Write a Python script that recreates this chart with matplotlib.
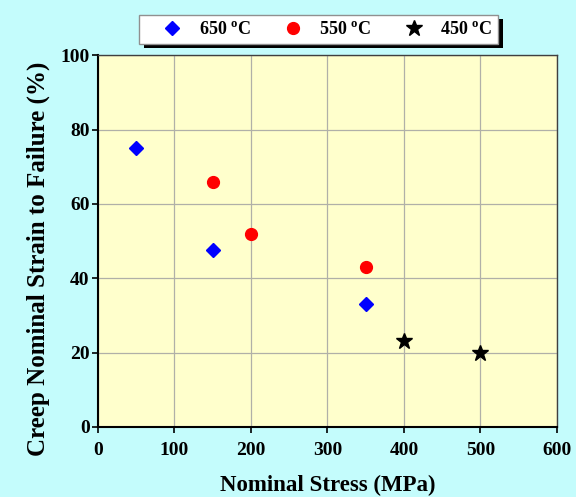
import matplotlib
matplotlib.use("Agg")
import matplotlib.pyplot as plt
from matplotlib.patches import Rectangle

plt.rcParams['font.family'] = ['Liberation Serif', 'DejaVu Serif']
plt.rcParams['font.weight'] = 'bold'
plt.rcParams['mathtext.fontset'] = 'custom'
plt.rcParams['mathtext.rm'] = 'Liberation Serif:bold'
plt.rcParams['mathtext.it'] = 'Liberation Serif:bold'
plt.rcParams['mathtext.bf'] = 'Liberation Serif:bold'

labels = ["650 $^{\\mathrm{o}}$C", "550 $^{\\mathrm{o}}$C", "450 $^{\\mathrm{o}}$C"]
stress_650 = [50, 150, 350]
strain_650 = [75, 47.5, 33]
stress_550 = [150, 200, 350]
strain_550 = [66, 52, 43]
stress_450 = [400, 500]
strain_450 = [23, 20]
xticks = [0, 100, 200, 300, 400, 500, 600]
yticks = [0, 20, 40, 60, 80, 100]

fig = plt.figure(figsize=(5.76, 4.97), dpi=100, facecolor='#c4fcfc')
ax = fig.add_axes([0.170, 0.141, 0.797, 0.748])
ax.set_facecolor('#ffffcc')

h1, = ax.plot(stress_650, strain_650, linestyle='none', marker='D', color='#0000ff', markersize=7)
h2, = ax.plot(stress_550, strain_550, linestyle='none', marker='o', color='#ff0000', markersize=8.5)
h3, = ax.plot(stress_450, strain_450, linestyle='none', marker='*', color='black', markersize=12)

ax.set_xlim(0, 600)
ax.set_ylim(0, 100)
ax.set_xticks(xticks)
ax.set_yticks(yticks)
ax.grid(True, color='#b0b0a8', linewidth=0.9)
ax.set_axisbelow(True)
ax.tick_params(direction='out', length=4.5, width=1.2, labelsize=14)
ax.tick_params(axis='x', pad=6)
ax.tick_params(axis='y', pad=1.5)
for lab in ax.get_xticklabels() + ax.get_yticklabels():
    lab.set_fontweight('bold')
for s in ['left', 'bottom']:
    ax.spines[s].set_linewidth(1.5)
    ax.spines[s].set_color('black')
for s in ['top', 'right']:
    ax.spines[s].set_linewidth(1.0)
    ax.spines[s].set_color('#404040')

ax.set_xlabel('Nominal Stress (MPa)', fontsize=16.5, fontweight='bold')
ax.set_ylabel('Creep Nominal Strain to Failure (%)', fontsize=18, fontweight='bold')
ax.xaxis.set_label_coords(0.501, -0.128)
ax.yaxis.set_label_coords(-0.105, 0.452)

leg = fig.legend([h1, h2, h3], labels, loc='center', bbox_to_anchor=(0.553, 0.941),
                 ncol=3, frameon=True, fancybox=False, edgecolor='#909090',
                 facecolor='white', framealpha=1, fontsize=13, handletextpad=-0.05,
                 columnspacing=0.85, borderpad=0.35, handlelength=3.0)
leg.get_frame().set_linewidth(1.0)
leg.set_zorder(5)

fig.canvas.draw()
bb = leg.get_window_extent()
inv = fig.transFigure.inverted()
(x0, y0), (x1, y1) = inv.transform([[bb.x0 + 5, bb.y0 - 4], [bb.x1 + 5, bb.y1 - 4]])
shadow = Rectangle((x0, y0), x1 - x0, y1 - y0, transform=fig.transFigure,
                   facecolor='black', edgecolor='none', zorder=4)
fig.patches.append(shadow)

fig.savefig('out.png', dpi=100, facecolor=fig.get_facecolor())
